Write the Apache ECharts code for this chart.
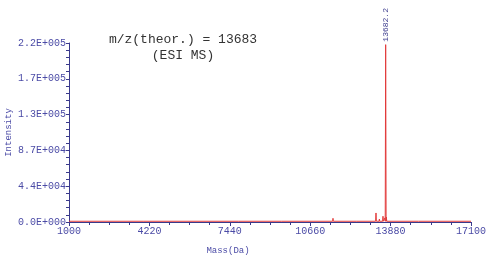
<!DOCTYPE html>
<html>
<head>
<meta charset="utf-8">
<script src="https://cdn.jsdelivr.net/npm/echarts@6/dist/echarts.min.js"></script>
<style>html,body{margin:0;padding:0;background:#fff}#c{width:499px;height:265px}</style>
</head>
<body>
<div id="c"></div>
<script>
// ---- data ----
const masses = [1000, 4000, 7800, 7810, 7820, 9500, 11560, 11573, 11586, 12500, 13280, 13295, 13310, 13420, 13430, 13440, 13560, 13575, 13590, 13640, 13655, 13665, 13682.2, 13700, 13712, 13725, 15000, 17100];
const intensities = [900, 900, 900, 2200, 900, 900, 900, 4500, 900, 900, 900, 11000, 900, 900, 3500, 900, 900, 7000, 900, 900, 5000, 900, 216000, 900, 6000, 900, 900, 900];
const peakMass = 13682.2;
const peakIntensity = 216000;
const peakLabel = '13682.2';
const xTickLabels = ['1000', '4220', '7440', '10660', '13880', '17100'];
const yTickLabels = ['0.0E+000', '4.4E+004', '8.7E+004', '1.3E+005', '1.7E+005', '2.2E+005'];
const xStart = 1000, xEnd = 17100, xStep = 3220;
const yMax = 218000, yStep = 43600;
const annotation = ['m/z(theor.) = 13683', '(ESI MS)'];

const axisBlue = '#3a3a8c';
const labelBlue = '#4b4ba6';
const mono = '"Liberation Mono", "DejaVu Sans Mono", monospace';

const seriesData = masses.map((m, i) => [m - xStart, intensities[i]]);

const chart = echarts.init(document.getElementById('c'), null, { renderer: 'canvas' });
chart.setOption({
  animation: false,
  backgroundColor: '#ffffff',
  grid: { left: 69, right: 28, top: 43, bottom: 43, containLabel: false, outerBoundsMode: 'none' },
  xAxis: {
    type: 'value', min: 0, max: xEnd - xStart, interval: xStep,
    name: 'Mass(Da)', nameLocation: 'middle', nameGap: 29, nameMoveOverlap: false,
    nameTextStyle: { color: labelBlue, fontFamily: mono, fontSize: 9, verticalAlign: 'middle', padding: [0, 84, 0, 0] },
    axisLine: { show: true, lineStyle: { color: axisBlue, width: 1 } },
    axisTick: { show: true, inside: false, length: 4, lineStyle: { color: axisBlue } },
    minorTick: { show: true, splitNumber: 4, length: 3, lineStyle: { color: axisBlue } },
    axisLabel: { color: labelBlue, fontFamily: mono, fontSize: 10, margin: 4,
      formatter: (v) => xTickLabels[Math.round(v / xStep)] },
    splitLine: { show: false }
  },
  yAxis: {
    type: 'value', min: 0, max: yMax, interval: yStep,
    name: 'Intensity', nameLocation: 'middle', nameGap: 60, nameRotate: 90, nameMoveOverlap: false,
    nameTextStyle: { color: labelBlue, fontFamily: mono, fontSize: 9, verticalAlign: 'middle' },
    axisLine: { show: true, lineStyle: { color: axisBlue, width: 1 } },
    axisTick: { show: true, inside: false, length: 3, lineStyle: { color: axisBlue } },
    minorTick: { show: true, splitNumber: 5, length: 3, lineStyle: { color: axisBlue } },
    axisLabel: { color: labelBlue, fontFamily: mono, fontSize: 10, margin: 3,
      formatter: (v) => yTickLabels[Math.round(v / yStep)] },
    splitLine: { show: false }
  },
  graphic: [
    { type: 'text', style: { text: annotation[0], x: 183, y: 40, align: 'center', verticalAlign: 'middle',
      fill: '#333333', font: '13px ' + mono } },
    { type: 'text', style: { text: annotation[1], x: 183, y: 56, align: 'center', verticalAlign: 'middle',
      fill: '#333333', font: '13px ' + mono } }
  ],
  series: [{
    type: 'line', data: seriesData, showSymbol: false, symbol: 'none',
    lineStyle: { color: '#e23a3a', width: 1 }, itemStyle: { color: '#e23a3a' },
    z: 3,
    markPoint: {
      symbol: 'circle', symbolSize: 0, silent: true,
      itemStyle: { color: 'transparent' },
      label: {
        show: true, position: 'top', rotate: 90, align: 'left', verticalAlign: 'middle',
        distance: 3, formatter: peakLabel, color: '#3a3a8c', fontFamily: mono, fontSize: 8
      },
      data: [{ coord: [peakMass - xStart, peakIntensity] }]
    }
  }]
});
</script>
</body>
</html>
